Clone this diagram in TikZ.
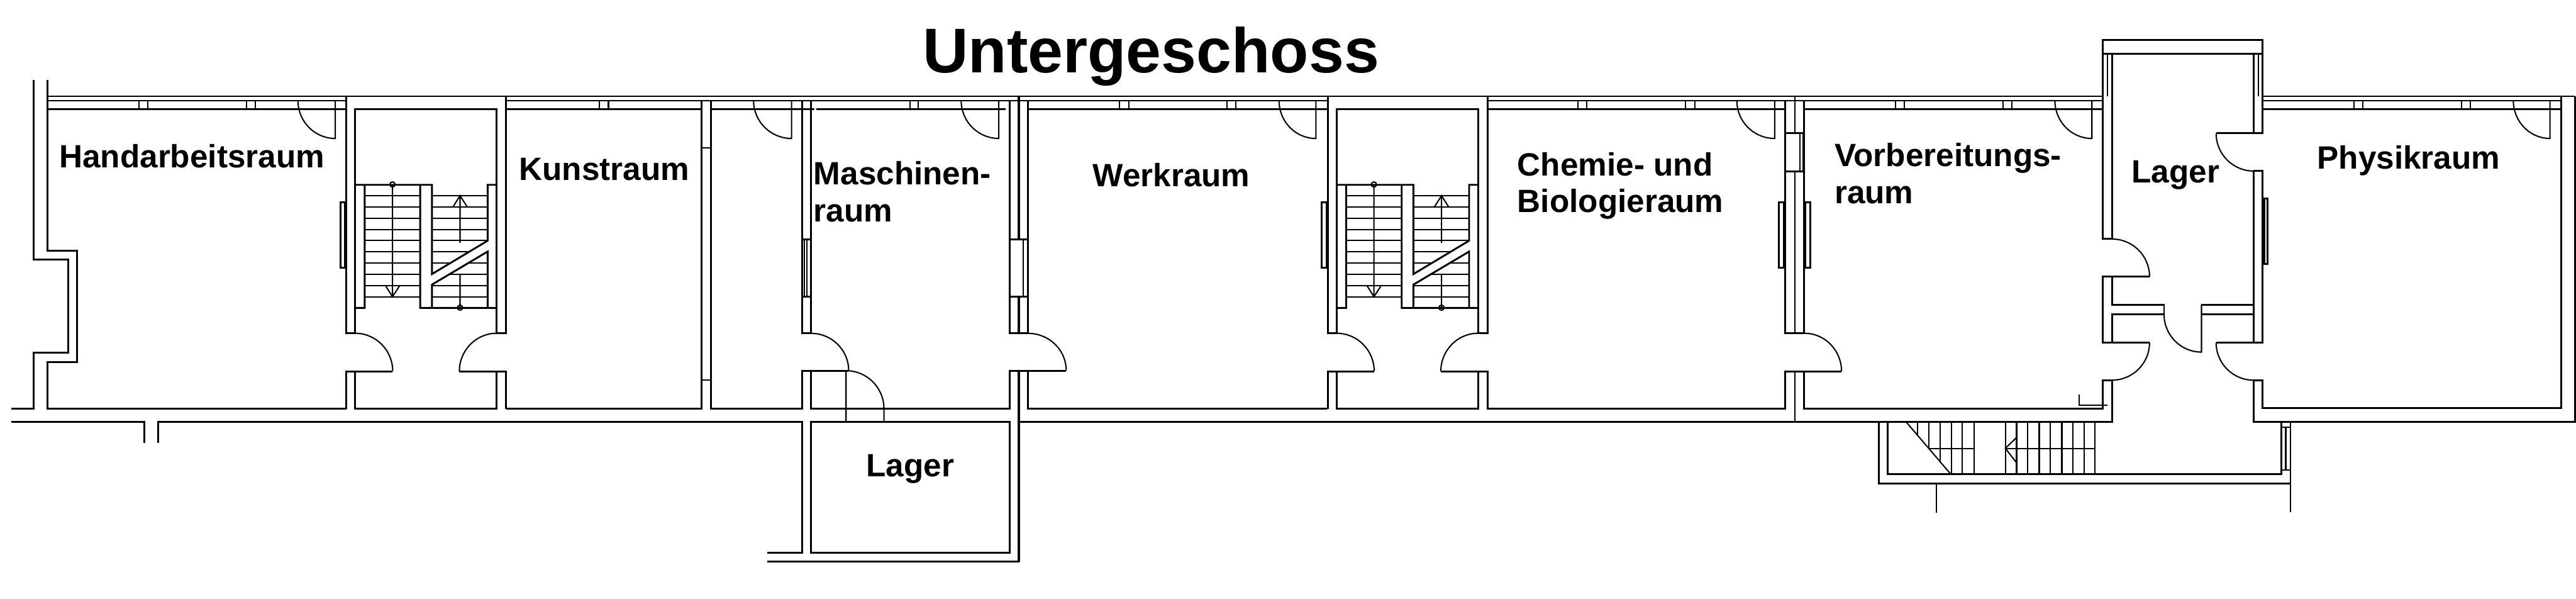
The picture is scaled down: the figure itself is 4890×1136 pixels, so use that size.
\documentclass[tikz,border=0pt]{standalone}
\usepackage{fontspec}
\setmainfont{Liberation Sans}
\tikzset{
  wall/.style={line width=1pt,line join=miter},
  thick wall/.style={line width=1.3pt},
  fine/.style={line width=0.7pt},
  room/.style={anchor=base west,inner sep=0pt,align=left,
    font=\fontsize{17.4}{19.9}\selectfont\bfseries},
}
\begin{document}
\begin{tikzpicture}[x=0.01cm,y=-0.01cm]
  \useasboundingbox (0,0) rectangle (4890,1136);

  % top bands
  \draw[fine] (90.5,182.7) -- (3992,182.7)  (4295,182.7) -- (4888,182.7);
  \draw[wall] (90.5,191) -- (657.5,191)  (960.5,191) -- (2518.7,191)  (2822.3,191) -- (3992,191)  (4295,191) -- (4861.6,191);
  \draw[wall] (90.5,207.5) -- (657.5,207.5)  (960.5,207.5) -- (1332,207.5)  (1349.5,207.5) -- (1546,207.5)  (1549,207.5) -- (1909,207.5);
  \draw[wall] (1952,207.5) -- (2518.7,207.5)  (2822.3,207.5) -- (3389,207.5)  (3425,207.5) -- (3992,207.5)  (4295,207.5) -- (4861.6,207.5);
  \foreach \xa/\xb in {264/280.6,467.5/484.7,1137.8/1155,1727/1743,2125.4/2142.4,2329.5/2346.4,2995.6/3012.4,3199.7/3217,3597.7/3614.8,3802/3819,4468/4485,4672.5/4689.6}
    \draw[fine] (\xa,191) -- (\xa,207.5)  (\xb,191) -- (\xb,207.5);
  \foreach \xa/\xb in {565.7/636.5,1430.5/1502.5,1824.6/1896,2428/2498,3297/3368.8,3900.8/3971,4771/4840.6}
    \draw[fine] (\xa,191) to[out=-90,in=180] (\xb,262.7) -- (\xb,191);

  % stairwells
  \foreach \shift in {0,18.62}
  {
    \begin{scope}[xshift=\shift cm]
    \draw[wall] (657.5,182.7) -- (657.5,632.3) -- (674,632.3) -- (674,207.5) -- (943,207.5) -- (943,632.3) -- (960.5,632.3) -- (960.5,182.7);
    \draw[wall] (745.5,704.5) -- (657.5,704.5) -- (657.5,775.6)  (674,704.5) -- (674,775.6) -- (943,775.6) -- (943,704.5);
    \draw[wall] (872,704.5) -- (960.5,704.5) -- (960.5,775.6);
    \draw[fine] (674,632.3) to[out=0,in=90] (745.5,704.5);
    \draw[fine] (943,632.3) to[out=180,in=90] (872,704.5);
    \draw[wall] (646,383.6) rectangle (655,508);

    \foreach \s in {371.3,392.6,413.9,435.2,456.5,477.8,499.1,520.4,541.7,563}
      \draw[fine] (692.3,\s) -- (797.7,\s)  (820,\s) -- (925.7,\s);
    \fill[white] (820,520) -- (925.7,456.7) -- (925.7,477.3) -- (820,540) --cycle;
    \draw[wall] (675,584.3) -- (692.3,584.3) -- (692.3,350.7)  (675,350.7) -- (820,350.7) -- (820,520) -- (925.7,456.7) -- (925.7,350.7) -- (942.7,350.7);
    \draw[wall] (797.7,350.7) -- (797.7,584.3) -- (942.7,584.3)  (820,584.3) -- (820,540) -- (925.7,477.3) -- (925.7,584.3);
    \draw[fine] (745,350.7) -- (745,563)  (732.3,542.7) -- (745,563) -- (758.3,542.7);
    \draw[fine] (745,350) circle[radius=1.4pt];
    \draw[fine] (873.3,583.7) -- (873.3,520.5)  (873.3,461) -- (873.3,371.3)  (860,392.3) -- (873.3,371.3) -- (886.7,392.3);
    \draw[fine] (873.3,583.7) circle[radius=1.4pt];
    \end{scope}
  }

  % west end and corridor
  \draw[wall] (90.5,152) -- (90.5,475.6) -- (146.7,475.6) -- (146.7,687) -- (90.5,687) -- (90.5,775.6) -- (657.5,775.6);
  \draw[wall] (64,152) -- (64,492.5) -- (130,492.5) -- (130,669.6) -- (64,669.6) -- (64,775.6) -- (21,775.6);
  \draw[wall] (21,801) -- (274,801) -- (274,840.8)  (300,840.8) -- (300,801) -- (1523,801) -- (1523,1049) -- (1456,1049);
  \draw[wall] (1456,1066) -- (1934,1066) -- (1934,703.3);
  \draw[thick wall] (1934,562.4) -- (1934,632.5)  (1934,183) -- (1934,454.6)  (1934,703.3) -- (1934,1066);

  % Kunstraum to Werkraum
  \draw[wall] (960.5,775.6) -- (1332,775.6) -- (1332,191);
  \draw[wall] (1349.5,191) -- (1349.5,775.6) -- (1523,775.6) -- (1523,703.3) -- (1611,703.3);
  \draw[fine] (1332,280) -- (1349.5,280)  (1332,721) -- (1349.5,721);
  \draw[wall] (1523,191) -- (1523,632.5) -- (1539.5,632.5) -- (1539.5,191);
  \draw[fine] (1539.5,632.5) to[out=0,in=90] (1611,703.3);
  \filldraw[wall,fill=white] (1523,454.6) rectangle (1539.5,562.4);
  \draw[fine] (1527.4,454.6) -- (1527.4,562.4)  (1532,454.6) -- (1532,562.4);
  \draw[wall] (1539.5,703.3) -- (1539.5,775.6) -- (1916.5,775.6) -- (1916.5,703.3) -- (2024,703.3);
  \draw[wall] (1916.5,191) -- (1916.5,632.5) -- (1951.5,632.5) -- (1951.5,191);
  \draw[fine] (1951.5,632.5) to[out=0,in=90] (2024,703.3);
  \filldraw[wall,fill=white] (1916.5,454.6) rectangle (1951.5,562.4);
  \draw[fine] (1942.6,454.6) -- (1942.6,562.4);
  \draw[wall] (1951.5,703.3) -- (1951.5,775.6) -- (2519.5,775.6);

  % lower Lager
  \draw[wall] (1539.5,801) rectangle (1916.5,1049);
  \draw[fine] (1606,801) -- (1606,703.3) to[out=0,in=90] (1678,775.6) -- (1678,801);

  % Chemie and Vorbereitung
  \draw[wall] (2822.5,775.6) -- (3389,775.6) -- (3389,704.5) -- (3495.7,704.5);
  \draw[wall] (3389,191) -- (3389,632.3) -- (3425,632.3) -- (3425,191);
  \draw[fine] (3425,632.3) to[out=0,in=90] (3495.7,704.5);
  \draw[fine] (3407.4,182.7) -- (3407.4,632.3)  (3407.4,704.5) -- (3407.4,801);
  \filldraw[wall,fill=white] (3389,253) rectangle (3423.5,325);
  \draw[fine] (3416.5,253) -- (3416.5,325);
  \draw[wall] (3376.5,383.6) rectangle (3386,508)  (3427,383.6) rectangle (3436,508);
  \draw[wall] (3425,704.5) -- (3425,775.6) -- (3992,775.6) -- (3992,721.3) -- (4009,721.3);
  \draw[wall] (1934,801) -- (4009,801) -- (4009,721.3);
  \draw[fine] (3946.4,748) -- (3946.4,768.6) -- (4000.6,768.6);

  % upper Lager
  \draw[wall] (3992,76) rectangle (4295,102);
  \draw[fine] (4000.6,102) -- (4000.6,182.7)  (4286.6,102) -- (4286.6,182.7);
  \draw[wall] (3992,102) -- (3992,453.5) -- (4009,453.5) -- (4009,102);
  \draw[fine] (4009,453.5) to[out=0,in=90] (4080.4,525);
  \draw[wall] (4080.4,525) -- (3992,525) -- (3992,650) -- (4080.4,650);
  \draw[fine] (4080.4,650) to[out=-90,in=0] (4009,721.3);
  \draw[wall] (4009,525) -- (4009,578.3) -- (4108,578.3) -- (4108,596.5) -- (4009,596.5) -- (4009,650);
  \draw[fine] (4108,596.5) to[out=-90,in=180] (4179,668) -- (4179,578.3);
  \draw[wall] (4179,578.3) -- (4278,578.3)  (4179,596.5) -- (4278,596.5);
  \draw[wall] (4278,102) -- (4278,253)  (4295,102) -- (4295,253) -- (4206.8,253);
  \draw[fine] (4206.8,253) to[out=-90,in=180] (4278,324.5);
  \draw[wall] (4278,324.5) -- (4295,324.5) -- (4295,650) -- (4206.8,650)  (4278,324.5) -- (4278,650);
  \draw[fine] (4206.8,650) to[out=-90,in=180] (4278,721.3);
  \draw[wall] (4278,721.3) -- (4295,721.3) -- (4295,774.6) -- (4861.6,774.6) -- (4861.6,182.7);
  \draw[wall] (4278,721.3) -- (4278,801) -- (4888,801) -- (4888,182.7);
  \draw[wall] (4298,377) rectangle (4304.7,501);

  % outside stairs
  \draw[wall] (3567,801) -- (3567,917) -- (4347.7,917);
  \draw[wall] (3583.4,801) -- (3583.4,900) -- (4331,900) -- (4331,801);
  \draw[fine] (4347.7,801) -- (4347.7,972)  (3675.5,917) -- (3675.5,973);
  \draw[fine] (4339,810.7) -- (4339,892.3)  (4331,810.7) -- (4347.7,810.7)  (4331,892.3) -- (4347.7,892.3);
  \foreach \x/\yend in {3640/826,3662/850.7,3683/875,3704.4/900,3725/900,3747/900,3806.7/900,3828/900,3849/900,3871/900,3892/900,3914/900,3935/900,3956/900,3976.5/900}
    \draw[fine] (\x,801) -- (\x,\yend);
  \draw[fine] (3618.7,801) -- (3703.4,900);
  \draw[fine] (3662,850.7) -- (3747,850.7)  (3806.7,850.7) -- (3976.5,850.7);
  \draw[fine] (3828,830) -- (3806.7,850.7) -- (3828,878);

  % names
  \node[anchor=base west,inner sep=0pt,font=\fontsize{34.1}{40}\selectfont\bfseries] (untergeschoss) at (1751,138) {Untergeschoss};
  \node[room] (handarbeit) at (112,318) {Handarbeitsraum};
  \node[room] (kunst) at (985,342) {Kunstraum};
  \node[room] (maschinen) at (1544,420.8) {Maschinen-\\raum};
  \node[room] (lagerunten) at (1644,904) {Lager};
  \node[room] (werk) at (2074,354) {Werkraum};
  \node[room] (chemie) at (2880,403.5) {Chemie- und\\Biologieraum};
  \node[room] (vorbereitung) at (3482,386) {Vorbereitungs-\\raum};
  \node[room] (lageroben) at (4046,347) {Lager};
  \node[room] (physik) at (4398,321) {Physikraum};
\end{tikzpicture}
\end{document}
